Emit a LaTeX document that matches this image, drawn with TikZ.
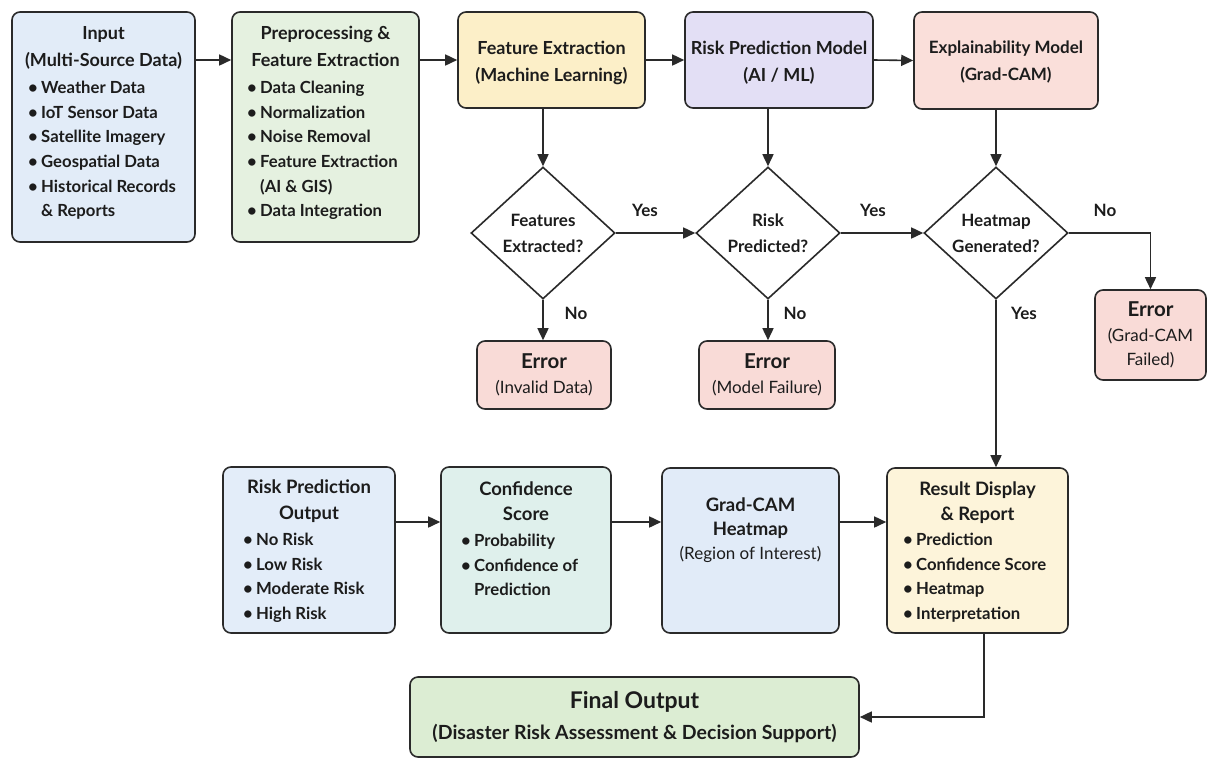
\documentclass[tikz,border=0pt]{standalone}
\usepackage{fontspec}
\setmainfont{Lato}
\usetikzlibrary{arrows.meta,shapes.geometric,calc}

\definecolor{edge}{HTML}{2A2A2A}
\definecolor{ink}{HTML}{1C1C1C}
\definecolor{inBlue}{HTML}{E2ECF8}
\definecolor{prepGreen}{HTML}{E5F1E0}
\definecolor{featYellow}{HTML}{FCEFC8}
\definecolor{riskPurple}{HTML}{E3DFF5}
\definecolor{explPink}{HTML}{FADFDA}
\definecolor{errPink}{HTML}{F9DBD7}
\definecolor{outBlue}{HTML}{E3EDF9}
\definecolor{confTeal}{HTML}{DFF0EC}
\definecolor{camBlue}{HTML}{E1EBF8}
\definecolor{resYellow}{HTML}{FDF4DA}
\definecolor{finGreen}{HTML}{DCEDD3}

% bullet and hanging indent for the item lists
\newcommand\bitem{\makebox[13pt][l]{\textbullet}}
\newcommand\bcont{\hspace*{13pt}}

\tikzset{
  box/.style={draw=edge, line width=1.6pt, rounded corners=8pt, inner sep=0pt},
  decision/.style={draw=edge, line width=1.6pt, shape=diamond, inner sep=0pt,
    minimum width=144pt, minimum height=132pt, fill=white},
  ttl/.style={font=\bfseries\fontsize{18}{27}\selectfont, align=center,
    inner sep=0pt, anchor=north, text=ink},
  lst/.style={font=\bfseries\fontsize{16.7}{24.6}\selectfont, align=left,
    inner sep=0pt, anchor=north west, text=ink},
  dtxt/.style={font=\bfseries\fontsize{17}{26}\selectfont, align=center,
    inner sep=0pt, text=ink},
  etxt/.style={font=\fontsize{17}{25}\selectfont, align=center,
    inner sep=0pt, text=ink},
  ehead/.style={font=\bfseries\fontsize{20.5}{22}\selectfont},
  lbl/.style={font=\bfseries\fontsize{17}{18}\selectfont, inner sep=0pt, text=ink},
  arr/.style={draw=edge, line width=1.6pt, -{Triangle[length=12pt,width=11pt]}},
}

\begin{document}
\begin{tikzpicture}[x=1pt,y=-1pt]
\fill[white] (0,0) rectangle (1208,764);
\useasboundingbox (0,0) rectangle (1208,764);

% ---- top row of process boxes
\node[box, fill=inBlue, minimum width=183pt, minimum height=230pt] (inp) at (103.5,127) {};
\node[box, fill=prepGreen, minimum width=187pt, minimum height=230pt] (prep) at (325.5,127) {};
\node[box, fill=featYellow, minimum width=187pt, minimum height=96pt] (fe) at (551.5,60) {};
\node[box, fill=riskPurple, minimum width=188pt, minimum height=96pt] (rp) at (779,60) {};
\node[box, fill=explPink, minimum width=184pt, minimum height=97pt] (ex) at (1006,60.5) {};

\node[ttl] (inp-t) at (103.5,26) {Input\\(Multi-Source Data)};
\node[lst] (inp-l) at (28,81) {\bitem Weather Data\\\bitem IoT Sensor Data\\\bitem Satellite Imagery\\\bitem Geospatial Data\\\bitem Historical Records\\\bcont\& Reports};
\node[ttl] (prep-t) at (325.5,26) {Preprocessing \&\\Feature Extraction};
\node[lst] (prep-l) at (247,81) {\bitem Data Cleaning\\\bitem Normalization\\\bitem Noise Removal\\\bitem Feature Extraction\\\bcont(AI \& GIS)\\\bitem Data Integration};
\node[ttl] (fe-t) at (551.5,41) {Feature Extraction\\(Machine Learning)};
\node[ttl] (rp-t) at (779,41) {Risk Prediction Model\\(AI / ML)};
\node[ttl, font=\bfseries\fontsize{17}{27}\selectfont] (ex-t) at (1006,41) {Explainability Model\\(Grad-CAM)};

% ---- decisions
\node[decision] (d1) at (543,233) {};
\node[decision] (d2) at (768,233) {};
\node[decision] (d3) at (996,233) {};
\node[dtxt] (d1-t) at (d1) {Features\\Extracted?};
\node[dtxt] (d2-t) at (d2) {Risk\\Predicted?};
\node[dtxt] (d3-t) at (d3) {Heatmap\\Generated?};

% ---- error boxes
\node[box, fill=errPink, minimum width=134pt, minimum height=68pt] (e1) at (544,375) {};
\node[box, fill=errPink, minimum width=136pt, minimum height=68pt] (e2) at (767,375) {};
\node[box, fill=errPink, minimum width=111pt, minimum height=90pt] (e3) at (1150.5,335) {};
\node[etxt] (e1-t) at (e1) {{\bfseries\fontsize{20.5}{22}\selectfont Error}\\(Invalid Data)};
\node[etxt] (e2-t) at (e2) {{\bfseries\fontsize{20.5}{22}\selectfont Error}\\(Model Failure)};
\node[etxt, font=\fontsize{17}{24.5}\selectfont] (e3-t) at (e3) {{\bfseries\fontsize{20.5}{22}\selectfont Error}\\(Grad-CAM\\Failed)};

% ---- bottom row
\node[box, fill=outBlue, minimum width=172pt, minimum height=166pt] (rpo) at (309,550) {};
\node[box, fill=confTeal, minimum width=170pt, minimum height=166pt] (conf) at (526,550) {};
\node[box, fill=camBlue, minimum width=177pt, minimum height=165pt] (gh) at (750.5,550.5) {};
\node[box, fill=resYellow, minimum width=181pt, minimum height=165pt] (res) at (977.5,550.5) {};
\node[box, fill=finGreen, minimum width=449pt, minimum height=80pt] (fin) at (634.5,717) {};

\node[ttl, font=\bfseries\fontsize{18.5}{26}\selectfont] (rpo-t) at (309,480) {Risk Prediction\\Output};
\node[lst] (rpo-l) at (243,533) {\bitem No Risk\\\bitem Low Risk\\\bitem Moderate Risk\\\bitem High Risk};
\node[ttl, font=\bfseries\fontsize{18.5}{24.5}\selectfont] (conf-t) at (526,482) {Confidence\\Score};
\node[lst] (conf-l) at (461,534) {\bitem Probability\\\bitem Confidence of\\\bcont Prediction};
\node[ttl, font=\bfseries\fontsize{18.5}{24}\selectfont] (gh-t) at (750.5,498) {Grad-CAM\\Heatmap\\{\mdseries\fontsize{17}{24}\selectfont(Region of Interest)}};
\node[ttl, font=\bfseries\fontsize{18.5}{24.5}\selectfont] (res-t) at (977.5,482) {Result Display\\\& Report};
\node[lst] (res-l) at (903,533) {\bitem Prediction\\\bitem Confidence Score\\\bitem Heatmap\\\bitem Interpretation};
\node[dtxt, font=\bfseries\fontsize{19.5}{31}\selectfont] (fin-t) at (634.5,717) {{\fontsize{23}{26}\selectfont Final Output}\\(Disaster Risk Assessment \& Decision Support)};

% ---- connectors
\coordinate (row) at (0,522);
\draw[arr] (inp.east |- fe) -- (prep.west |- fe);
\draw[arr] (prep.east |- fe) -- (fe.west);
\draw[arr] (fe.east) -- (rp.west);
\draw[arr] (rp.east) -- (ex.west);
\draw[arr] (d1 |- fe.south) -- (d1.north);
\draw[arr] (d2 |- rp.south) -- (d2.north);
\draw[arr] (d3 |- ex.south) -- (d3.north);
\draw[arr] (d1.east) -- (d2.west);
\draw[arr] (d2.east) -- (d3.west);
\draw[arr] (d1.south) -- (d1.south |- e1.north);
\draw[arr] (d2.south) -- (d2.south |- e2.north);
\draw[arr] (d3.east) -| (e3.north);
\draw[arr] (d3.south) -- (d3.south |- res.north);
\draw[arr] (rpo.east |- row) -- (conf.west |- row);
\draw[arr] (conf.east |- row) -- (gh.west |- row);
\draw[arr] (gh.east |- row) -- (res.west |- row);
\draw[arr] ([xshift=6.5pt]res.south) |- (fin.east);

% ---- branch labels
\node[lbl] (y1) at (645,210) {Yes};
\node[lbl] (y2) at (873,210) {Yes};
\node[lbl] (n3) at (1105,210) {No};
\node[lbl] (n1) at (576,313) {No};
\node[lbl] (n2) at (795,313) {No};
\node[lbl] (y3) at (1024,313) {Yes};
\end{tikzpicture}
\end{document}
